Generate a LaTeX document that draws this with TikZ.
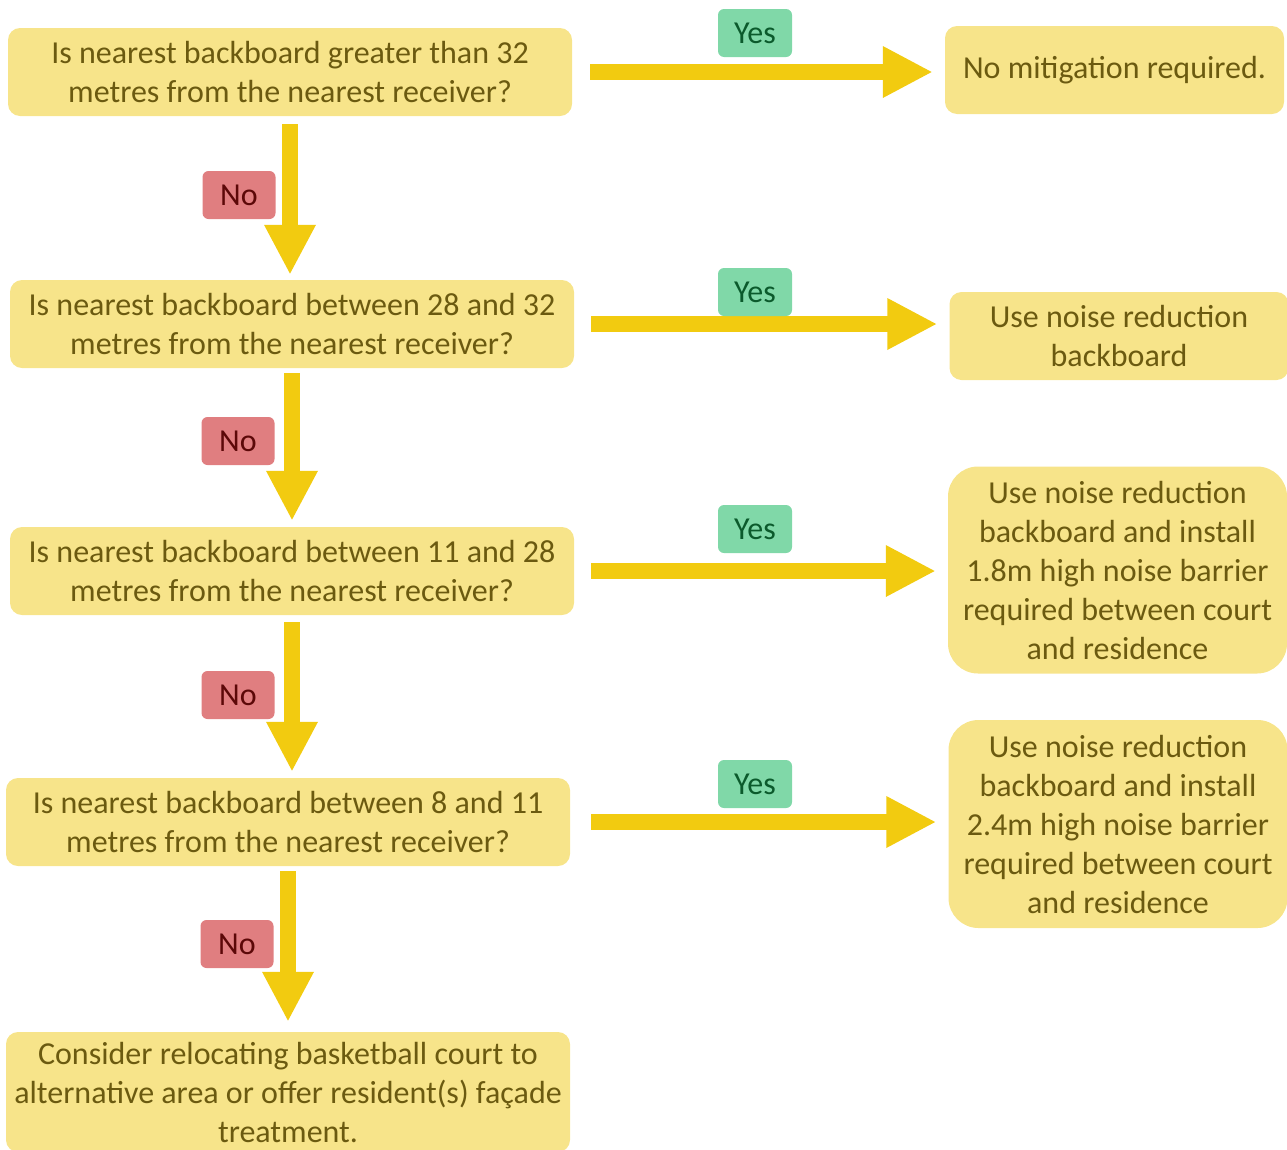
\documentclass[tikz,border=0pt]{standalone}
\usepackage{fontspec}
\setmainfont{Carlito}
\usetikzlibrary{arrows.meta}
\definecolor{boxfill}{HTML}{F7E48A}
\definecolor{boxtext}{HTML}{6B5A10}
\definecolor{flowyellow}{HTML}{F2CB10}
\definecolor{yesfill}{HTML}{80D8A8}
\definecolor{yestext}{HTML}{0B5A2C}
\definecolor{nofill}{HTML}{E07E80}
\definecolor{notext}{HTML}{5C0808}
\tikzset{
  question/.style={fill=boxfill, text=boxtext, rounded corners=12pt, align=center,
    inner sep=0pt, minimum width=564pt, minimum height=88pt},
  outcome/.style={fill=boxfill, text=boxtext, rounded corners=12pt, align=center,
    inner sep=0pt, minimum width=339pt, minimum height=88pt},
  yeslabel/.style={fill=yesfill, text=yestext, rounded corners=6pt,
    minimum width=74pt, minimum height=48pt, inner sep=0pt},
  nolabel/.style={fill=nofill, text=notext, rounded corners=6pt,
    minimum width=73pt, minimum height=48pt, inner sep=0pt},
  flow/.style={draw=flowyellow, line width=16pt, -{Triangle[width=48pt,length=50pt]}}
}
\begin{document}
\begin{tikzpicture}[x=1pt, y=-1pt]
\tikzstyle{every node}+=[font=\fontsize{32}{39}\selectfont]
\useasboundingbox (0,0) rectangle (1287,1149);
% questions
\node [question] (q1) at (290,72) {Is nearest backboard greater than 32\\metres from the nearest receiver?};
\node [question] (q2) at (292,324) {Is nearest backboard between 28 and 32\\metres from the nearest receiver?};
\node [question] (q3) at (292,571) {Is nearest backboard between 11 and 28\\metres from the nearest receiver?};
\node [question] (q4) at (288,822) {Is nearest backboard between 8 and 11\\metres from the nearest receiver?};
\node [question, minimum height=120pt] (q5) at (288,1092) {Consider relocating basketball court to\\alternative area or offer resident(s) façade\\treatment.};
% outcomes
\node [outcome] (r1) at (1114.5,70) {No mitigation required.};
\node [outcome] (r2) at (1119,336) {Use noise reduction\\backboard};
\node [outcome, rounded corners=30pt, minimum height=207pt] (r3) at (1117.5,570) {Use noise reduction\\backboard and install\\1.8m high noise barrier\\required between court\\and residence};
\node [outcome, rounded corners=30pt, minimum height=208pt] (r4) at (1118,824) {Use noise reduction\\backboard and install\\2.4m high noise barrier\\required between court\\and residence};
% yes arrows
\draw [flow, shorten <=18pt, shorten >=12pt] (q1.east) -- (q1.east -| r1.west);
\draw [flow, shorten <=17pt, shorten >=12pt] (q2.east) -- (q2.east -| r2.west);
\draw [flow, shorten <=17pt, shorten >=12pt] (q3.east) -- (q3.east -| r3.west);
\draw [flow, shorten <=21pt, shorten >=12pt] (q4.east) -- (q4.east -| r4.west);
\node [yeslabel] (y1) at (755,33) {Yes};
\node [yeslabel] (y2) at (755,292) {Yes};
\node [yeslabel] (y3) at (755,529) {Yes};
\node [yeslabel] (y4) at (755,784) {Yes};
% no arrows
\draw [flow, shorten <=8pt, shorten >=5pt] (q1.south) -- (q1.south |- q2.north);
\draw [flow, shorten <=5pt, shorten >=6pt] (q2.south) -- (q2.south |- q3.north);
\draw [flow, shorten <=7pt, shorten >=6pt] (q3.south) -- (q3.south |- q4.north);
\draw [flow, shorten <=5pt, shorten >=10pt] (q4.south) -- (q4.south |- q5.north);
\node [nolabel] (n1) at (239,195) {No};
\node [nolabel] (n2) at (238,441) {No};
\node [nolabel] (n3) at (238,695) {No};
\node [nolabel] (n4) at (237,944) {No};
\end{tikzpicture}
\end{document}
